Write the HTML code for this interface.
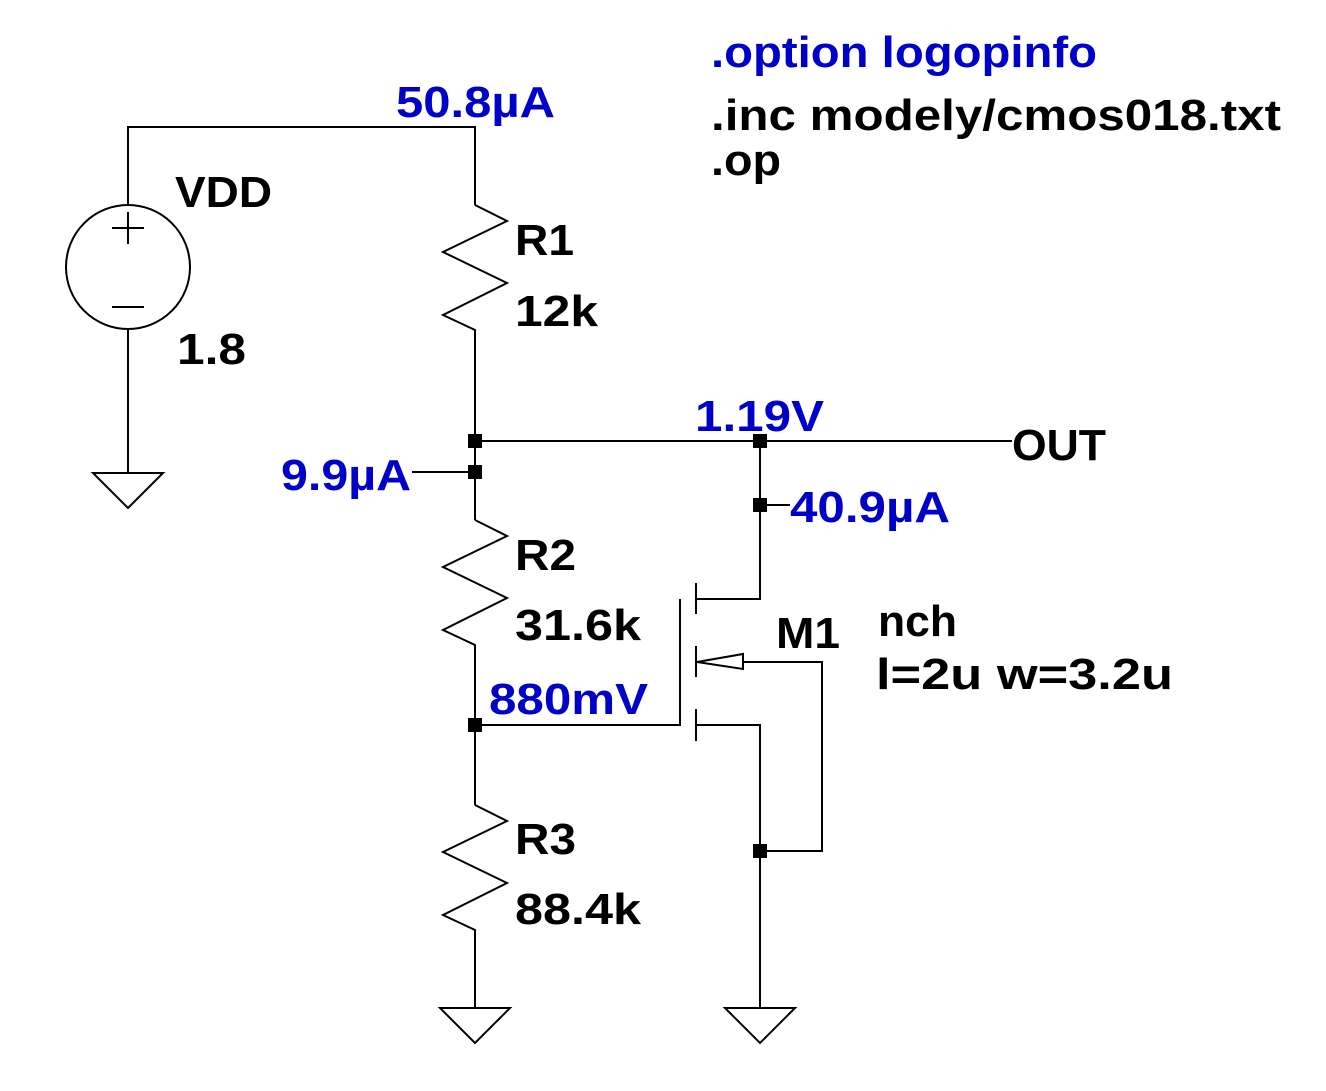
<!DOCTYPE html>
<html><head><meta charset="utf-8"><style>
html,body{margin:0;padding:0;background:#fff;}
svg{display:block;}
text{font-family:"Liberation Sans",Arial,sans-serif;font-weight:bold;font-size:44px;}
.b{fill:#0000c8;}
.k{fill:#000;}
</style></head><body>
<svg width="1326" height="1091" viewBox="0 0 1326 1091" xmlns="http://www.w3.org/2000/svg">
<g fill="none" stroke="#000" stroke-width="2">
<!-- VDD source -->
<circle cx="128" cy="267" r="62"/>
<line x1="112" y1="228" x2="144" y2="228"/><line x1="128" y1="212" x2="128" y2="244"/>
<line x1="112" y1="307" x2="144" y2="307"/>
<polyline points="128,205 128,127 475,127 475,205"/>
<line x1="128" y1="329" x2="128" y2="473"/>
<polygon points="93,473 163,473 128,508"/>
<!-- R1 -->
<polyline points="475,205 507,221 443,252 507,283 443,315 475,330 475,520"/>
<!-- R2 -->
<polyline points="475,520 507,536 443,567 507,598 443,630 475,645 475,805"/>
<!-- R3 -->
<polyline points="475,805 507,821 443,852 507,883 443,915 475,930 475,1008"/>
<polygon points="440,1008 510,1008 475,1043"/>
<!-- wires -->
<line x1="475" y1="441" x2="1012" y2="441"/>
<line x1="412" y1="472" x2="475" y2="472"/>
<line x1="760" y1="505" x2="790" y2="505"/>
<polyline points="475,725 680,725 680,599"/>
<polyline points="760,441 760,599 696,599"/>
<line x1="696" y1="583" x2="696" y2="614"/>
<line x1="696" y1="646" x2="696" y2="677"/>
<line x1="696" y1="709" x2="696" y2="741"/>
<polygon points="697,662 743,654 743,669"/>
<polyline points="743,662 822,662 822,851 760,851"/>
<polyline points="696,725 760,725 760,1008"/>
<polygon points="725,1008 795,1008 760,1043"/>
</g>
<g fill="#000">
<rect x="468" y="434" width="14" height="14"/>
<rect x="468" y="465" width="14" height="14"/>
<rect x="753" y="434" width="14" height="14"/>
<rect x="753" y="498" width="14" height="14"/>
<rect x="468" y="718" width="14" height="14"/>
<rect x="753" y="844" width="14" height="14"/>
</g>
<text class="b" x="711" y="67" textLength="386" lengthAdjust="spacingAndGlyphs">.option logopinfo</text>
<text class="k" x="711" y="130" textLength="570" lengthAdjust="spacingAndGlyphs">.inc modely/cmos018.txt</text>
<text class="k" x="711" y="175" textLength="70" lengthAdjust="spacingAndGlyphs">.op</text>
<text class="b" x="396" y="117" textLength="159" lengthAdjust="spacingAndGlyphs">50.8µA</text>
<text class="k" x="175" y="207" textLength="97" lengthAdjust="spacingAndGlyphs">VDD</text>
<text class="k" x="515" y="255" textLength="59" lengthAdjust="spacingAndGlyphs">R1</text>
<text class="k" x="515" y="326" textLength="83" lengthAdjust="spacingAndGlyphs">12k</text>
<text class="k" x="177" y="364" textLength="69" lengthAdjust="spacingAndGlyphs">1.8</text>
<text class="b" x="695" y="431" textLength="129" lengthAdjust="spacingAndGlyphs">1.19V</text>
<text class="k" x="1012" y="460" textLength="94" lengthAdjust="spacingAndGlyphs">OUT</text>
<text class="b" x="281" y="490" textLength="130" lengthAdjust="spacingAndGlyphs">9.9µA</text>
<text class="b" x="790" y="522" textLength="160" lengthAdjust="spacingAndGlyphs">40.9µA</text>
<text class="k" x="515" y="570" textLength="61" lengthAdjust="spacingAndGlyphs">R2</text>
<text class="k" x="515" y="640" textLength="126" lengthAdjust="spacingAndGlyphs">31.6k</text>
<text class="k" x="776" y="648" textLength="64" lengthAdjust="spacingAndGlyphs">M1</text>
<text class="k" x="878" y="636" textLength="79" lengthAdjust="spacingAndGlyphs">nch</text>
<text class="k" x="876" y="689" textLength="297" lengthAdjust="spacingAndGlyphs">l=2u w=3.2u</text>
<text class="b" x="489" y="714" textLength="159" lengthAdjust="spacingAndGlyphs">880mV</text>
<text class="k" x="515" y="854" textLength="61" lengthAdjust="spacingAndGlyphs">R3</text>
<text class="k" x="515" y="924" textLength="126" lengthAdjust="spacingAndGlyphs">88.4k</text>
</svg>
</body></html>
